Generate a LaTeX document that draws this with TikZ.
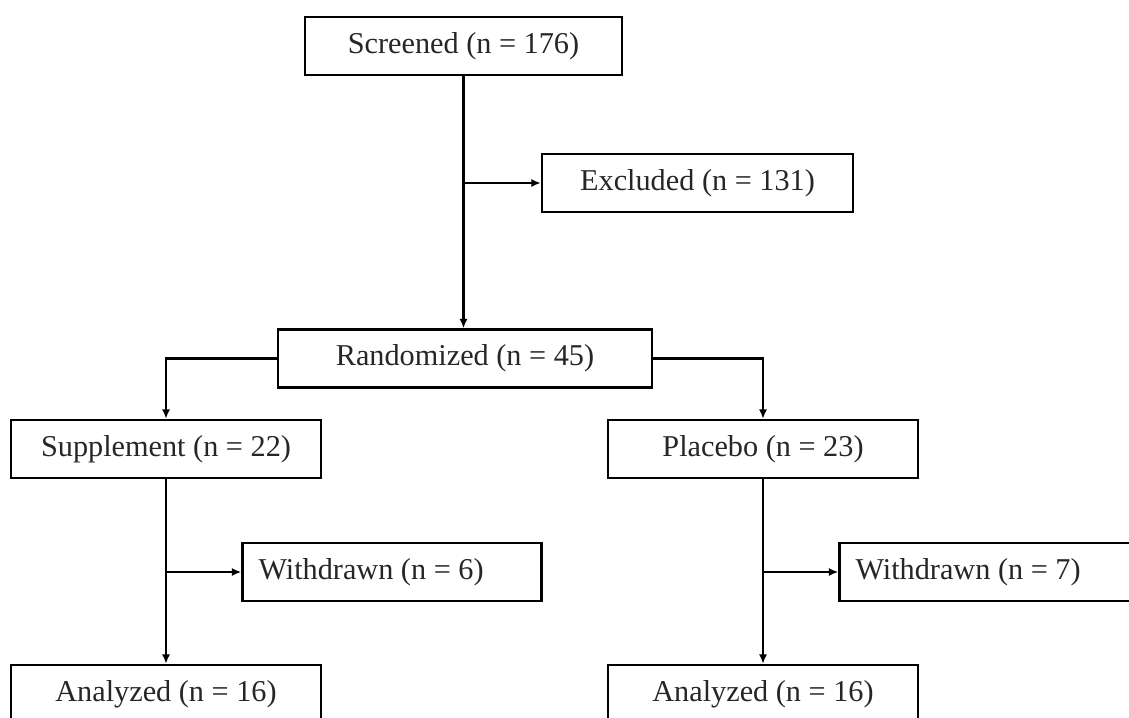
\documentclass[tikz,border=0pt]{standalone}
\usepackage{fontspec}
\setmainfont{Liberation Serif}
\usetikzlibrary{arrows.meta,positioning}

\begin{document}
\begin{tikzpicture}[x=0.75pt, y=-0.75pt,
    box/.style={draw, line width=1.8pt, minimum height=43.5pt, inner sep=0pt,
      text=black!85, font=\fontsize{22.7}{27}\selectfont},
    sidebox/.style={inner xsep=12pt, text width=200.25pt, align=flush left},
    flow/.style={line width=1.6pt, -{Latex[length=7pt,width=6pt]}}]
  \useasboundingbox (0,0) rectangle (1129,718);
  \node[box, minimum width=237.75pt] (scr) at (463.5,46) {Screened (n = 176)};
  \node[box, minimum width=233.25pt] (exc) at (697.5,183) {Excluded (n = 131)};
  \node[box, minimum width=280.5pt] (rnd) at (465,358.5) {Randomized (n = 45)};
  \draw[flow] (scr.south) -- (scr.south |- rnd.north);
  \draw[flow] (scr.south |- exc.west) -- (exc.west);
  \foreach \i/\x/\arm/\nA/\nW in {1/166/Supplement/22/6, 2/763/Placebo/23/7} {
    \node[box, minimum width=232.5pt] (arm\i) at (\x,449) {\arm{} (n = \nA)};
    \node[box, sidebox] (wd\i) at (\x+226,572) {Withdrawn (n = \nW)};
    \node[box, minimum width=232.5pt] (an\i) at (\x,694) {Analyzed (n = 16)};
    \draw[flow] (arm\i) -- (an\i);
    \draw[flow] (arm\i.south |- wd\i.west) -- (wd\i.west);
  }
  \draw[flow] (rnd.west) -| (arm1.north);
  \draw[flow] (rnd.east) -| (arm2.north);
\end{tikzpicture}
\end{document}
